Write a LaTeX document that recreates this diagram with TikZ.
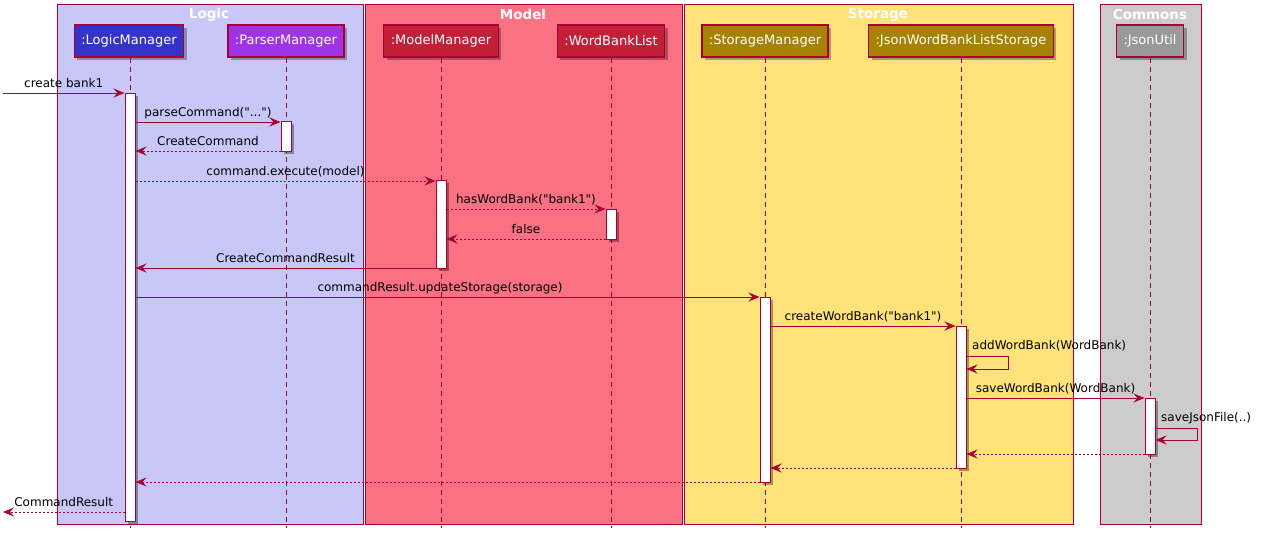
\documentclass[tikz,border=0pt]{standalone}
\usepackage{fontspec}
\setmainfont{DejaVu Sans}[Ligatures=TeXOff]
\usetikzlibrary{arrows.meta,shadows}
\definecolor{pu}{HTML}{A80036}
\definecolor{logicbg}{HTML}{C8C8F8}
\definecolor{modelbg}{HTML}{F97183}
\definecolor{storagebg}{HTML}{FFE27A}
\definecolor{commonsbg}{HTML}{CCCCCC}
\definecolor{lmfill}{HTML}{3434C8}
\definecolor{pmfill}{HTML}{9F34E6}
\definecolor{mmfill}{HTML}{C21F38}
\definecolor{smfill}{HTML}{A58200}
\definecolor{jufill}{HTML}{999999}
\begin{document}
\begin{tikzpicture}[x=1pt,y=-1pt,
  grp/.style={draw=pu, line width=1pt},
  ttl/.style={text=white, inner sep=0pt, font=\fontsize{13.5}{16}\selectfont\bfseries},
  part/.style={draw=pu, line width=1.3pt, text=white, font=\fontsize{13}{15}\selectfont,
    minimum height=32pt, inner xsep=7pt,
    drop shadow={shadow xshift=3pt,shadow yshift=-3pt,fill=black,opacity=0.3}},
  life/.style={draw=pu, line width=0.9pt, dash pattern=on 5pt off 4pt},
  act/.style={draw=pu, fill=white, line width=1pt, minimum width=10pt, inner sep=0pt,
    drop shadow={shadow xshift=2.5pt,shadow yshift=-2.5pt,fill=black,opacity=0.35}},
  msg/.style={draw=pu, line width=0.9pt, -{Stealth[length=11pt,width=9pt,inset=4pt]}},
  ret/.style={msg, dash pattern=on 2pt off 2pt},
  lbl/.style={above=1pt, inner sep=1pt, text=black, font=\fontsize{12}{14}\selectfont,
    text height=9pt, text depth=3pt},
  slbl/.style={anchor=south west, inner sep=1pt, text=black, font=\fontsize{12}{14}\selectfont,
    text height=9pt, text depth=3pt}]
\useasboundingbox (0,0) rectangle (1266,541);
\fill[white] (0,0) rectangle (1266,541);

% groups
\draw[grp, fill=logicbg]   (57,4)   rectangle (363,524);
\draw[grp, fill=modelbg]   (365,4)  rectangle (682,524);
\draw[grp, fill=storagebg] (684,4)  rectangle (1073,524);
\draw[grp, fill=commonsbg] (1100,4) rectangle (1201,524);
\node[ttl] (tLogic)   at (209,14.5)  {Logic};
\node[ttl] (tModel)   at (523,14.5)  {Model};
\node[ttl] (tStorage) at (878,14.5)  {Storage};
\node[ttl] (tCommons) at (1150,14.5) {Commons};

% participants
\node[part, fill=lmfill] (pLM)  at (129,41)  {:LogicManager};
\node[part, fill=pmfill] (pPM)  at (286,41)  {:ParserManager};
\node[part, fill=mmfill] (pMM)  at (441,41)  {:ModelManager};
\node[part, fill=mmfill] (pWBL) at (611,41)  {:WordBankList};
\node[part, fill=smfill] (pSM)  at (765,41)  {:StorageManager};
\node[part, fill=smfill] (pJW)  at (961,41)  {:JsonWordBankListStorage};
\node[part, fill=jufill] (pJU)  at (1150,41) {:JsonUtil};

% lifelines
\draw[life] (pLM.south -| 130,0) -- ++(0,470);
\foreach \p in {pPM,pMM,pWBL,pSM,pJW,pJU}
  \draw[life] (\p.south) -- ++(0,470);

% activations
\node[act, minimum height=428pt] (aLM)  at (130,307)   {};
\node[act, minimum height=30pt]  (aPM)  at (286,136)   {};
\node[act, minimum height=88pt]  (aMM)  at (441,224.5) {};
\node[act, minimum height=30pt]  (aWBL) at (611,224)   {};
\node[act, minimum height=185pt] (aSM)  at (765,389.5) {};
\node[act, minimum height=142pt] (aJW)  at (961,397)   {};
\node[act, minimum height=56pt]  (aJU)  at (1150,426)  {};

\coordinate (inStart) at (3,93);
\coordinate (outEnd)  at (3,512);

% messages
\draw[msg] (inStart) -- node[lbl]{create bank1} (aLM.west |- inStart);
\draw[msg] (aLM.east |- 0,122) -- node[lbl]{parseCommand("...")} (aPM.west |- 0,122);
\draw[ret] (aPM.west |- 0,151) -- node[lbl]{CreateCommand} (aLM.east |- 0,151);
\draw[ret] (aLM.east |- 0,181) -- node[lbl]{command.execute(model)} (aMM.west |- 0,181);
\draw[ret] (aMM.east |- 0,209) -- node[lbl]{hasWordBank("bank1")} (aWBL.west |- 0,209);
\draw[ret] (aWBL.west |- 0,239) -- node[lbl]{false} (aMM.east |- 0,239);
\draw[msg] (aMM.west |- 0,268) -- node[lbl]{CreateCommandResult} (aLM.east |- 0,268);
\draw[msg] (aLM.east |- 0,297) -- node[lbl, pos=0.488]{commandResult.updateStorage(storage)} (aSM.west |- 0,297);
\draw[msg] (aSM.east |- 0,326) -- node[lbl]{createWordBank("bank1")} (aJW.west |- 0,326);
\draw[msg] (aJW.east |- 0,356) -- ++(42,0) -- ++(0,13) -- (aJW.east |- 0,369);
\node[slbl] (lAdd) at (971,354) {addWordBank(WordBank)};
\draw[msg] (aJW.east |- 0,398) -- node[lbl]{saveWordBank(WordBank)} (aJU.west |- 0,398);
\draw[msg] (aJU.east |- 0,428) -- ++(42,0) -- ++(0,12) -- (aJU.east |- 0,440);
\node[slbl] (lSave) at (1160,426) {saveJsonFile(..)};
\draw[ret] (aJU.west |- 0,454) -- (aJW.east |- 0,454);
\draw[ret] (aJW.west |- 0,468) -- (aSM.east |- 0,468);
\draw[ret] (aSM.west |- 0,482) -- (aLM.east |- 0,482);
\draw[ret] (aLM.west |- outEnd) -- node[lbl]{CommandResult} (outEnd);
\end{tikzpicture}
\end{document}
